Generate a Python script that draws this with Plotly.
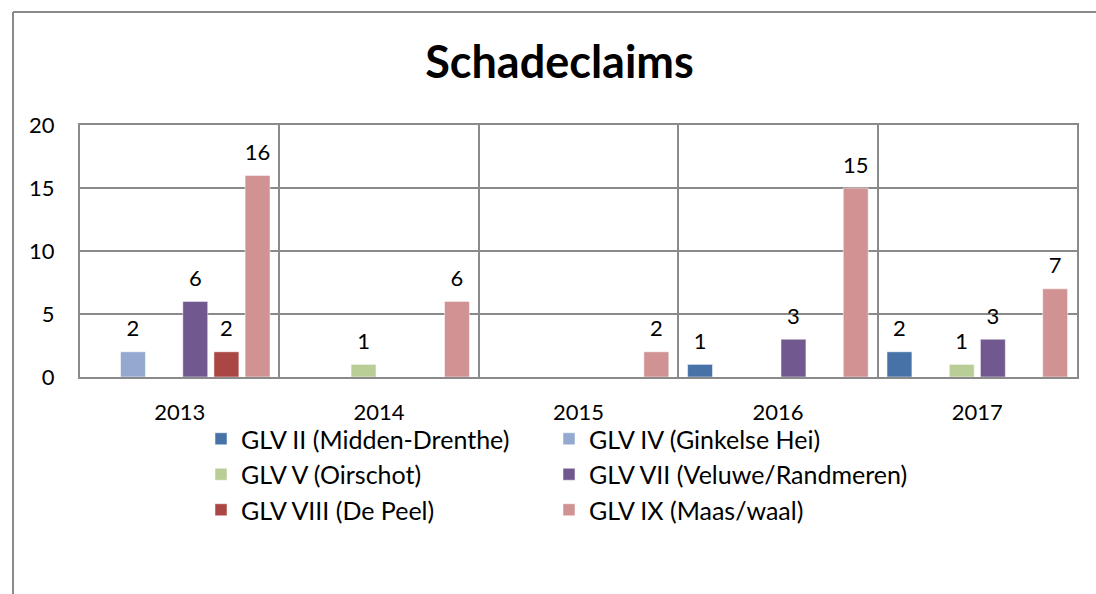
import plotly.graph_objects as go

# Jaren (categorieën)
jaren = ["2013", "2014", "2015", "2016", "2017"]

# Aantal schadeclaims per GLV
glv_ii = [0, 0, 0, 1, 2]
glv_iv = [2, 0, 0, 0, 0]
glv_v = [0, 1, 0, 0, 1]
glv_vii = [6, 0, 0, 3, 3]
glv_viii = [2, 0, 0, 0, 0]
glv_ix = [16, 6, 2, 15, 7]

series = [
    ("GLV II (Midden-Drenthe)", glv_ii, "#4672A8", "legend"),
    ("GLV IV (Ginkelse Hei)", glv_iv, "#93A9CF", "legend2"),
    ("GLV V (Oirschot)", glv_v, "#B9CD96", "legend"),
    ("GLV VII (Veluwe/Randmeren)", glv_vii, "#71588F", "legend2"),
    ("GLV VIII (De Peel)", glv_viii, "#AA4643", "legend"),
    ("GLV IX (Maas/waal)", glv_ix, "#D09292", "legend2"),
]

FONT = "Lato"
GRID = "#8A8A8A"

# pixel-geometrie van het plotgebied
W, H = 1096, 594
L, R, T, B = 80, 19, 125, 217
PW, PH = W - L - R, H - T - B


def px_x(p):
    return (p - L) / PW


def px_y(p):
    return (H - B - p) / PH


def label(v):
    # lege kleine tweede regel tilt het label wat hoger boven de staaf
    return f"<span style='font-size:22px'>{v}</span><br> " if v else ""


fig = go.Figure()

for naam, waarden, kleur, leg in series:
    fig.add_trace(go.Bar(
        x=jaren, y=waarden, name=naam,
        marker=dict(color=kleur, line=dict(color="rgba(255,255,255,0.5)", width=1)),
        text=[label(v) for v in waarden],
        textposition="outside", constraintext="none", cliponaxis=False,
        textfont=dict(family=FONT, size=8, color="black"),
        legend=leg, legendgroup=naam,
    ))

legend_style = dict(
    orientation="v", yanchor="top", xanchor="left",
    font=dict(family=FONT, size=25, color="black"),
    tracegroupgap=0, bgcolor="rgba(0,0,0,0)",
)

fig.update_layout(
    width=W, height=H,
    margin=dict(l=L, r=R, t=T, b=B, autoexpand=False),
    paper_bgcolor="white", plot_bgcolor="white",
    title=dict(text="<b>Schadeclaims</b>", x=559.5 / W, xanchor="center",
               y=1 - 62 / H, yanchor="middle",
               font=dict(family=FONT, size=45, color="black")),
    barmode="group", bargap=0.063, bargroupgap=0.2,
    legend=dict(x=px_x(201), y=px_y(416), **legend_style),
    legend2=dict(x=px_x(549), y=px_y(416), **legend_style),
    xaxis=dict(
        type="category", tickson="boundaries", showgrid=True,
        gridcolor=GRID, gridwidth=2, showline=True, mirror=True,
        linecolor=GRID, linewidth=2,
        ticks="", ticklabelstandoff=15,
        tickfont=dict(family=FONT, size=22, color="black"),
    ),
    yaxis=dict(
        range=[0, 20], tickvals=[0, 5, 10, 15, 20], showgrid=True,
        gridcolor=GRID, gridwidth=2, zeroline=False,
        showline=True, mirror=True, linecolor=GRID, linewidth=2,
        ticks="", ticklabelstandoff=19,
        tickfont=dict(family=FONT, size=22, color="black"),
    ),
    shapes=[
        dict(type="line", xref="paper", yref="paper",
             x0=px_x(13), x1=px_x(13), y0=px_y(12), y1=px_y(600),
             line=dict(color=GRID, width=2)),
        dict(type="line", xref="paper", yref="paper",
             x0=px_x(13), x1=px_x(1100), y0=px_y(12), y1=px_y(12),
             line=dict(color=GRID, width=2)),
    ],
)

fig.write_html("out.html", config={"displayModeBar": False},
               post_script="document.body.style.margin='0';")
